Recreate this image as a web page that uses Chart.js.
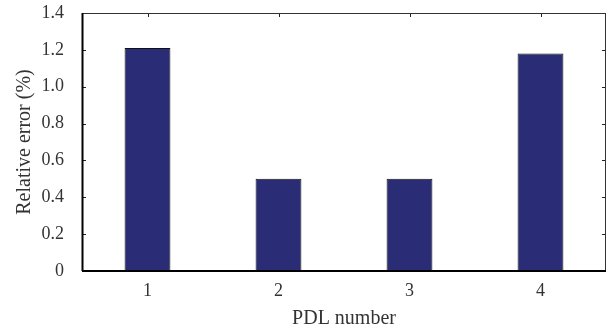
<!DOCTYPE html>
<html>
<head>
<meta charset="utf-8">
<script src="https://cdn.jsdelivr.net/npm/chart.js@4/dist/chart.umd.min.js"></script>
<style>
  body { margin: 0; background: #fff; }
  #wrap { width: 616px; height: 334px; }
</style>
</head>
<body>
<div id="wrap"><canvas id="barChart"></canvas></div>
<script>
const pdl_numbers = ['1', '2', '3', '4'];
const relative_errors = [1.21, 0.50, 0.50, 1.18];
const y_tick_values = [0, 0.2, 0.4, 0.6, 0.8, 1.0, 1.2, 1.4];
const y_tick_labels = ['0', '0.2', '0.4', '0.6', '0.8', '1.0', '1.2', '1.4'];

// frame with inward ticks on all four sides, like the matlab look
const framePlugin = {
    id: 'frame',
    beforeDatasetsDraw(chart) {
        const ctx = chart.ctx;
        const a = chart.chartArea;
        const x = chart.scales.x;
        const y = chart.scales.y;
        const len = 4;
        ctx.save();
        ctx.strokeStyle = '#222';
        ctx.lineWidth = 1;
        ctx.beginPath();
        y_tick_values.forEach(v => {
            const py = Math.round(y.getPixelForValue(v)) + 0.5;
            ctx.moveTo(a.left, py); ctx.lineTo(a.left + len, py);
            ctx.moveTo(a.right, py); ctx.lineTo(a.right - len, py);
        });
        pdl_numbers.forEach((c, i) => {
            const px = Math.round(x.getPixelForValue(i)) + 0.5;
            ctx.moveTo(px, a.top); ctx.lineTo(px, a.top + len);
            ctx.moveTo(px, a.bottom); ctx.lineTo(px, a.bottom - len);
        });
        ctx.stroke();
        ctx.restore();
    },
    afterDraw(chart) {
        const ctx = chart.ctx;
        const a = chart.chartArea;
        ctx.save();
        ctx.strokeStyle = '#333';
        ctx.lineWidth = 1;
        ctx.strokeRect(a.left + 0.5, a.top + 0.5, a.right - a.left - 1, a.bottom - a.top);
        ctx.strokeStyle = '#000';
        ctx.lineWidth = 2;
        ctx.beginPath();
        ctx.moveTo(a.left, a.bottom); ctx.lineTo(a.right, a.bottom);
        ctx.moveTo(a.left + 0.5, a.top); ctx.lineTo(a.left + 0.5, a.bottom);
        ctx.stroke();
        ctx.restore();
    }
};

Chart.defaults.font.family = '"Liberation Serif", "DejaVu Serif", serif';
Chart.defaults.color = '#333';

var bar = document.getElementById('barChart').getContext('2d');
var myChart = new Chart(bar, {
    type: 'bar',
    data: {
        labels: pdl_numbers,
        datasets: [{
            label: 'Relative error',
            data: relative_errors,
            backgroundColor: '#2a2d75',
            borderColor: '#111',
            borderWidth: 1,
            barPercentage: 0.35,
            categoryPercentage: 1.0
        }]
    },
    options: {
        responsive: true,
        maintainAspectRatio: false,
        animation: false,
        layout: { padding: { top: 13, right: 10, left: 0, bottom: 0 } },
        plugins: {
            legend: { display: false },
            tooltip: { enabled: false }
        },
        scales: {
            x: {
                grid: { display: false },
                border: { display: false },
                ticks: { font: { size: 18 }, padding: 1, color: '#333' },
                title: {
                    display: true,
                    text: 'PDL number',
                    font: { size: 20, lineHeight: 1 },
                    color: '#333',
                    padding: { top: 4, bottom: 5 }
                },
                afterFit(scale) {
                    scale.height = 63;
                    scale.paddingLeft = 0;
                    scale.paddingRight = 0;
                }
            },
            y: {
                min: 0,
                max: 1.4,
                grid: { display: false },
                border: { display: false },
                afterBuildTicks(scale) {
                    scale.ticks = y_tick_values.map(v => ({ value: v }));
                },
                ticks: {
                    font: { size: 18 },
                    padding: 10,
                    color: '#333',
                    callback: (value, index) => y_tick_labels[index]
                },
                title: {
                    display: true,
                    text: 'Relative error (%)',
                    font: { size: 20, lineHeight: 1 },
                    color: '#333',
                    padding: { top: 15, bottom: 4 }
                },
                afterFit(scale) {
                    scale.width = 82;
                    scale.paddingTop = 0;
                    scale.paddingBottom = 0;
                }
            }
        }
    },
    plugins: [framePlugin]
});
</script>
</body>
</html>
